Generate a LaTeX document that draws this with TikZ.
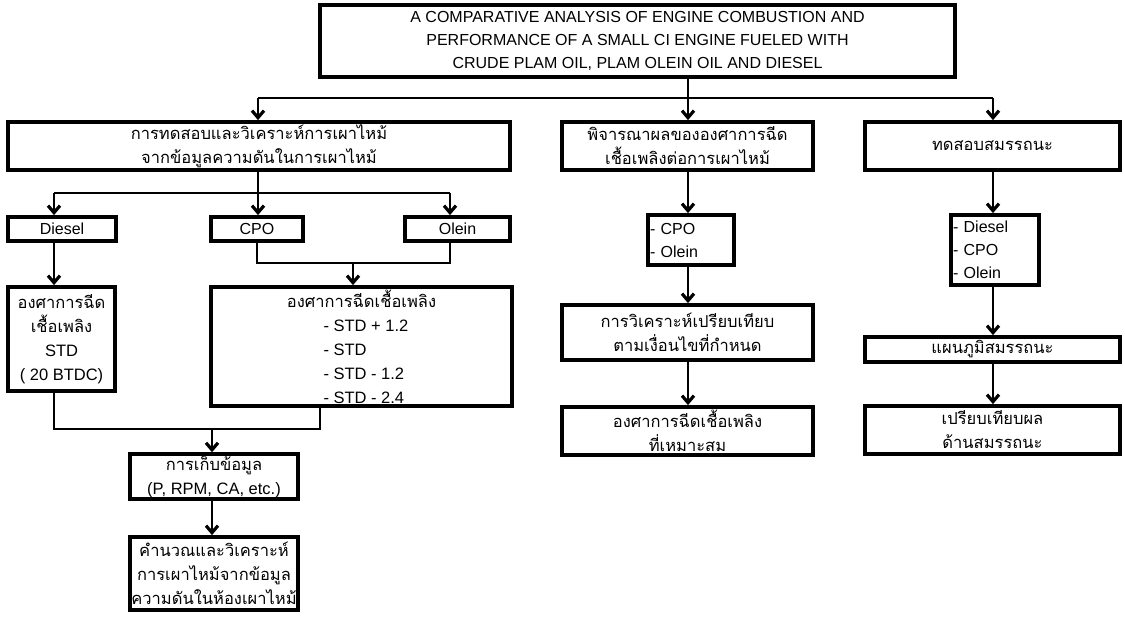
\documentclass[tikz,border=0pt]{standalone}
\usepackage{fontspec}
\setmainfont{Liberation Sans}
\newfontfamily\thai[Script=Thai]{Loma}
\usetikzlibrary{arrows.meta}
\tikzset{
  box/.style={draw, line width=3.8pt, inner sep=1pt, align=center,
    font=\fontsize{16}{23}\selectfont},
  tbox/.style={box, font=\thai\fontsize{16.5}{24}\selectfont},
  conn/.style={line width=2.8pt, line join=miter},
  arr/.style={line width=2.8pt, -{Straight Barb[length=7pt,width=12pt,line width=3.2pt]}},
}
\begin{document}
\begin{tikzpicture}[x=1pt,y=-1pt]
\useasboundingbox (0,0) rectangle (1125,617);
\fill[white] (0,0) rectangle (1125,617);

% boxes
\node[box, minimum width=635, minimum height=72] (title) at (637.5,41)
  {A COMPARATIVE ANALYSIS OF ENGINE COMBUSTION AND\\
   PERFORMANCE OF A SMALL CI ENGINE FUELED WITH\\
   CRUDE PLAM OIL, PLAM OLEIN OIL AND DIESEL};

\node[tbox, minimum width=502, minimum height=48] (L1) at (259,146)
  {การทดสอบและวิเคราะห์การเผาไหม้\\จากข้อมูลความดันในการเผาไหม้};
\node[tbox, minimum width=251, minimum height=48] (M1) at (687.5,146)
  {พิจารณาผลขององศาการฉีด\\เชื้อเพลิงต่อการเผาไหม้};
\node[tbox, minimum width=255, minimum height=48] (R1) at (992.5,146)
  {ทดสอบสมรรถนะ};

\node[box, minimum width=108, minimum height=24] (diesel) at (62,229) {Diesel};
\node[box, minimum width=92, minimum height=24] (cpo) at (257,229) {CPO};
\node[box, minimum width=105, minimum height=24] (olein) at (457.5,229) {Olein};

\node[tbox, minimum width=107, minimum height=104] (std) at (61.5,339)
  {องศาการฉีด\\เชื้อเพลิง\\\rmfamily STD\\\rmfamily ( 20 BTDC)};
\node[tbox, minimum width=301, minimum height=119] (inj) at (361.5,346.5)
  {องศาการฉีดเชื้อเพลิง\\
   \rmfamily\makebox[76pt][l]{- STD + 1.2}\\
   \rmfamily\makebox[76pt][l]{- STD}\\
   \rmfamily\makebox[76pt][l]{- STD - 1.2}\\
   \rmfamily\makebox[76pt][l]{- STD - 2.4}};

\node[tbox, minimum width=168, minimum height=41] (collect) at (214,476.5)
  {การเก็บข้อมูล\\\rmfamily (P, RPM, CA, etc.)};
\node[tbox, minimum width=168, minimum height=73] (calc) at (214,573.5)
  {คำนวณและวิเคราะห์\\การเผาไหม้จากข้อมูล\\ความดันในห้องเผาไหม้};

\node[box, text width=82pt, align=left, inner xsep=2pt, minimum height=50] (mlist) at (691,240)
  {- CPO\\- Olein};
\node[tbox, minimum width=251, minimum height=55] (M2) at (687.5,332.5)
  {การวิเคราะห์เปรียบเทียบ\\ตามเงื่อนไขที่กำหนด};
\node[tbox, minimum width=251, minimum height=48] (M3) at (687.5,431)
  {องศาการฉีดเชื้อเพลิง\\ที่เหมาะสม};

\node[box, text width=84pt, align=left, inner xsep=2pt, minimum height=70] (rlist) at (995,250)
  {- Diesel\\- CPO\\- Olein};
\node[tbox, minimum width=255, minimum height=25] (R2) at (992.5,349.5)
  {แผนภูมิสมรรถนะ};
\node[tbox, minimum width=255, minimum height=48] (R3) at (992.5,430)
  {เปรียบเทียบผล\\ด้านสมรรถนะ};

% junction coordinates
\coordinate (t0) at (688,98);
\coordinate (tL) at (258,98);
\coordinate (tR) at (993,98);
\coordinate (l0) at (258,193);
\coordinate (lL) at (54,193);
\coordinate (lR) at (450,193);
\coordinate (c0) at (257,263);
\coordinate (c1) at (450,263);
\coordinate (cm) at (353,263);
\coordinate (d0) at (54,429);
\coordinate (d1) at (320,429);
\coordinate (dm) at (212,429);

% connectors
\draw[conn] (title.south -| t0) -- (t0);
\draw[conn] (tL) -- (tR);
\draw[arr] (tL) -- (L1.north -| tL);
\draw[arr] (t0) -- (M1.north -| t0);
\draw[arr] (tR) -- (R1.north -| tR);

\draw[conn] (L1.south -| l0) -- (l0);
\draw[conn] (lL) -- (lR);
\draw[arr] (lL) -- (diesel.north -| lL);
\draw[arr] (l0) -- (cpo.north -| l0);
\draw[arr] (lR) -- (olein.north -| lR);

\draw[arr] (diesel.south -| lL) -- (std.north -| lL);
\draw[conn] (cpo.south -| c0) -- (c0) -- (c1) -- (olein.south -| c1);
\draw[arr] (cm) -- (inj.north -| cm);

\draw[conn] (std.south -| d0) -- (d0) -- (d1) -- (inj.south -| d1);
\draw[arr] (dm) -- (collect.north -| dm);
\draw[arr] (collect.south -| dm) -- (calc.north -| dm);

\draw[arr] (M1.south -| t0) -- (mlist.north -| t0);
\draw[arr] (mlist.south -| t0) -- (M2.north -| t0);
\draw[arr] (M2.south -| t0) -- (M3.north -| t0);

\draw[arr] (R1.south -| tR) -- (rlist.north -| tR);
\draw[arr] (rlist.south -| tR) -- (R2.north -| tR);
\draw[arr] (R2.south -| tR) -- (R3.north -| tR);
\end{tikzpicture}
\end{document}
